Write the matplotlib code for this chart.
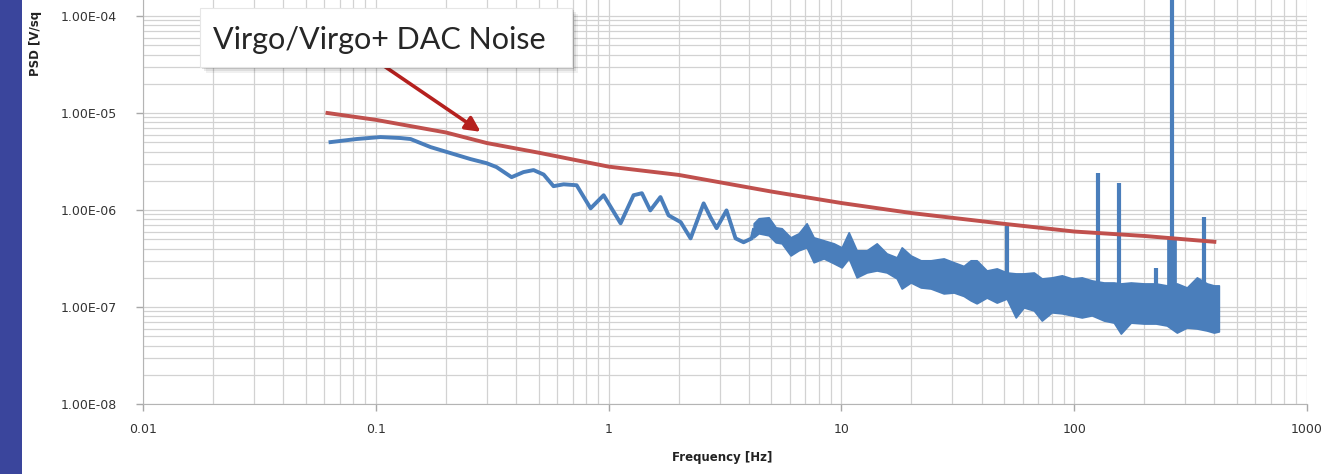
import matplotlib
matplotlib.use("Agg")
import matplotlib.pyplot as plt
from matplotlib.patches import Rectangle
from matplotlib.ticker import FixedLocator, NullFormatter

# ---------------------------------------------------------------------------
# data

# smooth low-frequency part of the measured PSD
f_smooth = [0.0639, 0.0826, 0.1047, 0.1277, 0.141, 0.172, 0.2095, 0.255, 0.299,
            0.330, 0.383, 0.431, 0.476, 0.526, 0.58, 0.641, 0.729, 0.837, 0.952,
            1.126, 1.28, 1.39, 1.51, 1.67, 1.81, 2.04, 2.25, 2.56, 2.74, 2.91,
            3.21, 3.51, 3.80, 4.12, 4.20]
v_smooth = [5.01e-6, 5.39e-6, 5.65e-6, 5.52e-6, 5.39e-6, 4.45e-6, 3.86e-6, 3.35e-6,
            3.04e-6, 2.77e-6, 2.18e-6, 2.46e-6, 2.58e-6, 2.32e-6, 1.76e-6, 1.84e-6,
            1.80e-6, 1.04e-6, 1.42e-6, 7.3e-7, 1.42e-6, 1.49e-6, 9.9e-7, 1.36e-6,
            8.8e-7, 7.5e-7, 5.1e-7, 1.17e-6, 8.4e-7, 6.5e-7, 9.9e-7, 5.1e-7,
            4.65e-7, 5.1e-7, 6.2e-7]

# noisy part: upper and lower edge of the noise band
f_band = [4.20, 4.41, 4.87, 5.22, 5.54, 6.05, 6.55, 7.09, 7.60, 8.39, 9.27, 10.03,
          10.75, 11.63, 12.85, 14.18, 15.65, 17.29, 18.16, 19.85, 21.92, 24.2, 27.5,
          30.4, 33.5, 35.9, 38.1, 42.1, 46.5, 51.3, 56.1, 60.7, 67.1, 72.6, 80.1,
          88.5, 97.7, 107.8, 119.0, 134.1, 148.0, 158.6, 175.1, 199.1, 224.2, 250.0,
          276.1, 304.8, 336.5, 371.4, 398.1, 418.2]
v_band_hi = [7.30e-7, 8.22e-7, 8.41e-7, 6.63e-7, 6.48e-7, 5.23e-7, 5.75e-7, 7.30e-7,
             5.23e-7, 4.87e-7, 4.53e-7, 4.12e-7, 5.89e-7, 3.84e-7, 3.84e-7, 4.53e-7,
             3.57e-7, 3.25e-7, 4.12e-7, 3.40e-7, 3.03e-7, 3.03e-7, 3.17e-7, 2.89e-7,
             2.65e-7, 3.03e-7, 3.03e-7, 2.38e-7, 2.50e-7, 2.27e-7, 2.22e-7, 2.22e-7,
             2.27e-7, 1.97e-7, 2.02e-7, 2.12e-7, 1.97e-7, 2.02e-7, 1.88e-7, 1.79e-7,
             1.79e-7, 1.75e-7, 1.79e-7, 1.75e-7, 1.75e-7, 1.67e-7, 1.75e-7, 1.59e-7,
             2.02e-7, 1.75e-7, 1.67e-7, 1.67e-7]
v_band_lo = [5.23e-7, 5.75e-7, 5.48e-7, 4.64e-7, 4.53e-7, 3.40e-7, 3.84e-7, 4.12e-7,
             2.89e-7, 3.17e-7, 2.82e-7, 2.56e-7, 3.17e-7, 2.02e-7, 2.27e-7, 2.38e-7,
             2.27e-7, 1.97e-7, 1.55e-7, 1.79e-7, 1.59e-7, 1.55e-7, 1.38e-7, 1.41e-7,
             1.30e-7, 1.17e-7, 1.09e-7, 1.25e-7, 1.11e-7, 1.22e-7, 7.8e-8, 9.9e-8,
             9.2e-8, 7.25e-8, 8.8e-8, 8.6e-8, 8.2e-8, 7.8e-8, 8.2e-8, 7.25e-8,
             6.9e-8, 5.32e-8, 6.9e-8, 6.75e-8, 6.75e-8, 6.44e-8, 5.45e-8, 6.14e-8,
             6.0e-8, 5.72e-8, 5.45e-8, 5.6e-8]

# line spikes on top of the noise
f_spike = [51.3, 127.0, 155.0, 224.0, 264.0, 360.0]
v_spike = [7.4e-7, 2.4e-6, 1.9e-6, 2.5e-7, 3.0e-4, 8.5e-7]
spike_base = 1.5e-7

# Virgo/Virgo+ DAC noise model
f_dac = [0.062, 0.1, 0.2, 0.3, 0.5, 1, 2, 5, 10, 20, 50, 100, 200, 400]
v_dac = [1.0e-5, 8.5e-6, 6.3e-6, 4.9e-6, 3.9e-6, 2.8e-6, 2.3e-6, 1.55e-6,
         1.18e-6, 9.3e-7, 7.2e-7, 6.0e-7, 5.4e-7, 4.7e-7]

x_ticks = [0.01, 0.1, 1, 10, 100, 1000]
x_ticklabels = ["0.01", "0.1", "1", "10", "100", "1000"]
y_ticks = [1e-8, 1e-7, 1e-6, 1e-5, 1e-4]
y_ticklabels = ["1.00E-08", "1.00E-07", "1.00E-06", "1.00E-05", "1.00E-04"]

callout = "Virgo/Virgo+ DAC Noise"
x_title = "Frequency [Hz]"
y_title = "PSD [V/sq"   # the slide crops the axis title at the top

# ---------------------------------------------------------------------------
W, H = 1330, 474
fig = plt.figure(figsize=(W / 100, H / 100), dpi=100)
fig.patch.set_facecolor("white")

# slide side bar
fig.add_artist(Rectangle((0, 0), 22 / W, 1, transform=fig.transFigure,
                         facecolor="#3a459c", edgecolor="none"))

ax = fig.add_axes([143 / W, 1 - 404 / H, (1307 - 143) / W, 404 / H])
ax.set_xscale("log")
ax.set_yscale("log")
ax.set_xlim(0.01, 1000)
ax.set_ylim(1e-8, 10 ** (-4 + 16 / 97))

grid_col = "#d2d2d2"
ax.xaxis.set_minor_locator(FixedLocator([m * 10.0 ** d for d in range(-2, 3) for m in range(2, 10)]))
ax.yaxis.set_minor_locator(FixedLocator([m * 10.0 ** d for d in range(-8, -3) for m in range(2, 10)]))
ax.xaxis.set_minor_formatter(NullFormatter())
ax.yaxis.set_minor_formatter(NullFormatter())
ax.grid(True, which="both", color=grid_col, linewidth=0.9)
ax.set_axisbelow(True)

ax.set_xticks(x_ticks)
ax.set_xticklabels(x_ticklabels)
ax.set_yticks(y_ticks)
ax.set_yticklabels(y_ticklabels)
ax.tick_params(which="major", length=5, width=1, color="#a8a8a8",
               labelsize=9, labelcolor="#333333")
ax.tick_params(axis="y", pad=14)
ax.tick_params(axis="x", pad=9)
ax.tick_params(which="minor", length=0)
for side in ["top", "right"]:
    ax.spines[side].set_visible(False)
for side in ["left", "bottom"]:
    ax.spines[side].set_color("#b4b4b4")

blue = "#4a7ebb"
red = "#c0504d"

# measured PSD
ax.fill_between(f_band, v_band_lo, v_band_hi, color=blue, linewidth=1.2, edgecolor=blue)
ax.plot(f_smooth, v_smooth, color=blue, linewidth=2.8, solid_joinstyle="round")
ax.vlines(f_spike, spike_base, v_spike, color=blue, linewidth=3)
ax.vlines([264.0], 1.0e-7, 5.0e-7, color=blue, linewidth=7)

# DAC noise model
ax.plot(f_dac, v_dac, color=red, linewidth=2.8)

fig.text(722 / W, 1 - 458 / H, x_title, fontsize=8.5, fontweight="bold",
         color="#222222", ha="center", va="center")
fig.text(36 / W, 1 - 76 / H, y_title, rotation=90, fontsize=8.5,
         fontweight="bold", color="#222222", ha="center", va="bottom")

# callout box with shadow
bx0, by0, bx1, by1 = 200, 8, 572, 67
for k, a in [(6, 0.06), (4, 0.08), (2, 0.12)]:
    fig.add_artist(Rectangle(((bx0 + k) / W, 1 - (by1 + k) / H), (bx1 - bx0) / W,
                             (by1 - by0) / H, transform=fig.transFigure,
                             facecolor="black", alpha=a, edgecolor="none"))
fig.add_artist(Rectangle((bx0 / W, 1 - by1 / H), (bx1 - bx0) / W, (by1 - by0) / H,
                         transform=fig.transFigure, facecolor="white",
                         edgecolor="#e6e6e6", linewidth=0.8))
fig.text(213 / W, 1 - 40 / H, callout, fontsize=22, family="Lato",
         color="#262626", ha="left", va="center")

ax.annotate("", xy=(0.282, 6.4e-6), xycoords="data",
            xytext=(384 / W, 1 - 66 / H), textcoords="figure fraction",
            arrowprops=dict(arrowstyle="-|>", color="#b5201e", lw=2.6,
                            mutation_scale=22, shrinkA=0, shrinkB=0))

fig.savefig("out.png", dpi=100)
